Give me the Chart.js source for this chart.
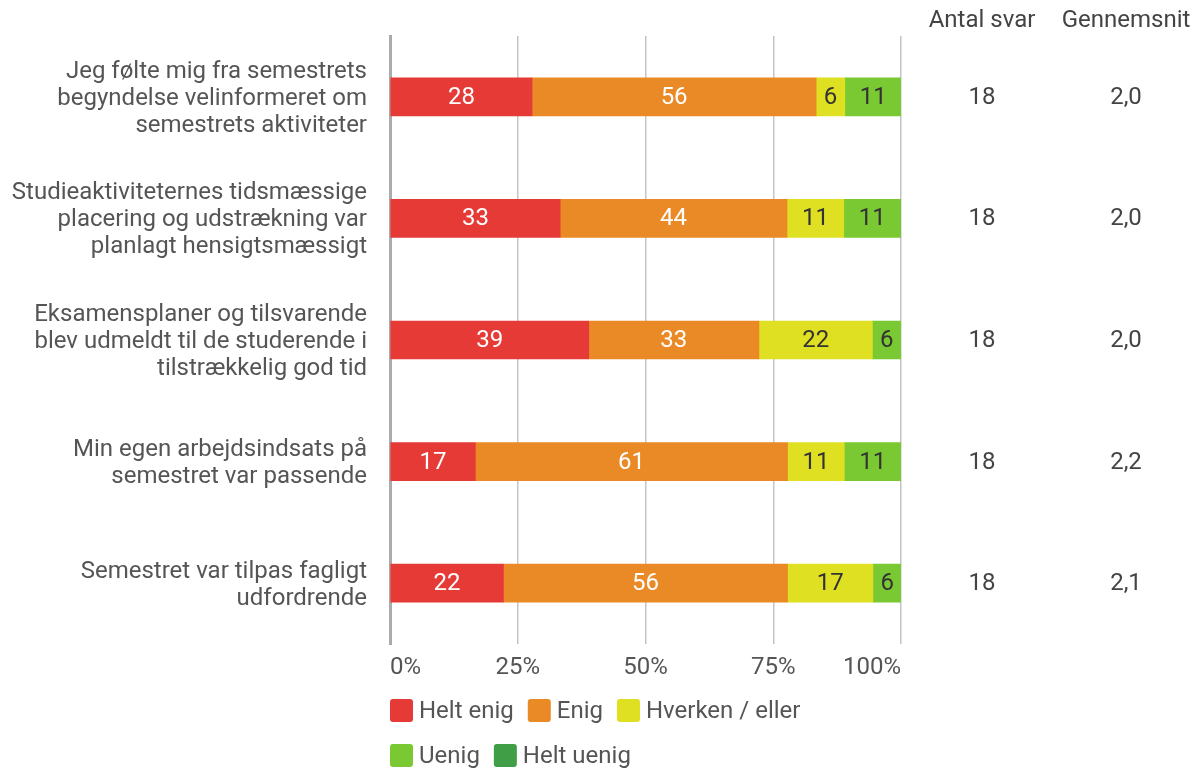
<!DOCTYPE html>
<html>
<head>
<meta charset="utf-8">
<script src="https://cdn.jsdelivr.net/npm/chart.js@4"></script>
<style>
  body { margin: 0; background: #fff; }
  canvas { display: block; }
</style>
</head>
<body>
<canvas id="chart" width="1200" height="769"></canvas>
<script>
const questions = [
    ['Jeg følte mig fra semestrets', 'begyndelse velinformeret om', 'semestrets aktiviteter'],
    ['Studieaktiviteternes tidsmæssige', 'placering og udstrækning var', 'planlagt hensigtsmæssigt'],
    ['Eksamensplaner og tilsvarende', 'blev udmeldt til de studerende i', 'tilstrækkelig god tid'],
    ['Min egen arbejdsindsats på', 'semestret var passende'],
    ['Semestret var tilpas fagligt', 'udfordrende']
];
const heltEnig = [27.8, 33.3, 38.9, 16.7, 22.2];
const enig = [55.6, 44.4, 33.3, 61.1, 55.6];
const hverken = [5.6, 11.1, 22.2, 11.1, 16.7];
const uenig = [11.1, 11.1, 5.6, 11.1, 5.6];
const heltUenig = [0, 0, 0, 0, 0];
const antalSvar = [18, 18, 18, 18, 18];
const gennemsnit = ['2,0', '2,0', '2,0', '2,2', '2,1'];
const xTicks = [0, 25, 50, 75, 100];

const FONT = 'Roboto, "Open Sans", sans-serif';
const SIZE = 24;
const TEXT = '#555';

// tal midt i hvert segment
const segmentLabels = {
    id: 'segmentLabels',
    afterDatasetsDraw(chart) {
        const ctx = chart.ctx;
        ctx.save();
        ctx.font = SIZE + 'px ' + FONT;
        ctx.textAlign = 'center';
        ctx.textBaseline = 'middle';
        chart.data.datasets.forEach((ds, i) => {
            chart.getDatasetMeta(i).data.forEach((bar, j) => {
                const v = ds.data[j];
                if (!v) return;
                ctx.fillStyle = ds.labelColor;
                ctx.fillText(Math.round(v), (bar.x + bar.base) / 2, bar.y + 1);
            });
        });
        ctx.restore();
    }
};

// kolonner til højre: Antal svar og Gennemsnit
const sideColumns = {
    id: 'sideColumns',
    afterDraw(chart) {
        const ctx = chart.ctx;
        const meta = chart.getDatasetMeta(0);
        ctx.save();
        ctx.font = SIZE + 'px ' + FONT;
        ctx.fillStyle = '#444';
        ctx.textAlign = 'center';
        ctx.textBaseline = 'middle';
        ctx.fillText('Antal svar', 982, 21);
        ctx.fillText('Gennemsnit', 1126, 21);
        meta.data.forEach((bar, j) => {
            ctx.fillText(antalSvar[j], 982, bar.y + 1);
            ctx.fillText(gennemsnit[j], 1126, bar.y + 1);
        });
        ctx.restore();
    }
};

// legende under aksen, venstrestillet ved plotområdet
const bottomLegend = {
    id: 'bottomLegend',
    afterDraw(chart) {
        const ctx = chart.ctx;
        const area = chart.chartArea;
        const box = 23, gap = 14;
        let x = area.left;
        let y = 699;
        ctx.save();
        ctx.font = SIZE + 'px ' + FONT;
        ctx.textBaseline = 'middle';
        chart.data.datasets.forEach(ds => {
            const w = box + 6 + ctx.measureText(ds.label).width;
            if (x + w + gap > area.right && x > area.left) {
                x = area.left;
                y += 45;
            }
            ctx.fillStyle = ds.backgroundColor;
            ctx.beginPath();
            ctx.roundRect(x, y, box, box, 3);
            ctx.fill();
            ctx.fillStyle = TEXT;
            ctx.fillText(ds.label, x + box + 6, y + box / 2 + 1);
            x += w + gap;
        });
        ctx.restore();
    }
};

new Chart(document.getElementById('chart'), {
    type: 'bar',
    data: {
        labels: questions,
        datasets: [
            { label: 'Helt enig', data: heltEnig, backgroundColor: '#e53a36', labelColor: '#fff' },
            { label: 'Enig', data: enig, backgroundColor: '#ea8a26', labelColor: '#fff' },
            { label: 'Hverken / eller', data: hverken, backgroundColor: '#dfe022', labelColor: '#333' },
            { label: 'Uenig', data: uenig, backgroundColor: '#7ac832', labelColor: '#333' },
            { label: 'Helt uenig', data: heltUenig, backgroundColor: '#3f9e46', labelColor: '#fff' }
        ]
    },
    options: {
        indexAxis: 'y',
        responsive: false,
        animation: false,
        barThickness: 38,
        layout: { padding: { top: 36, right: 299, bottom: 80, left: 0 } },
        plugins: {
            legend: { display: false },
            tooltip: { enabled: false }
        },
        scales: {
            x: {
                stacked: true,
                min: 0,
                max: 100,
                afterBuildTicks: scale => { scale.ticks = xTicks.map(v => ({ value: v })); },
                grid: { color: '#c4c4c4', lineWidth: 1.5, drawTicks: false },
                border: { display: false },
                ticks: {
                    align: 'inner',
                    padding: 10,
                    color: TEXT,
                    font: { family: FONT, size: SIZE },
                    callback: v => v + '%'
                },
                afterFit: scale => {
                    scale.height = 45;
                    scale.paddingLeft = 0;
                    scale.paddingRight = 0;
                }
            },
            y: {
                stacked: true,
                grid: { display: false },
                border: { display: true, color: '#ababab', width: 3 },
                ticks: {
                    padding: 15,
                    labelOffset: 2,
                    color: TEXT,
                    font: { family: FONT, size: SIZE, lineHeight: 1.125 }
                },
                afterFit: scale => {
                    scale.width = 390;
                    scale.paddingTop = 0;
                    scale.paddingBottom = 0;
                }
            }
        }
    },
    plugins: [segmentLabels, sideColumns, bottomLegend]
});
</script>
</body>
</html>
